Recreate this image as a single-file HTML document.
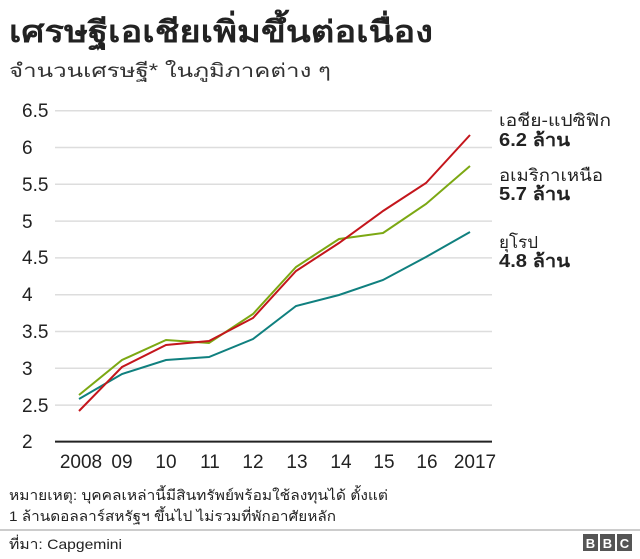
<!DOCTYPE html><html><head><meta charset="utf-8"><style>
body{margin:0;background:#fff;width:640px;height:554px;overflow:hidden;font-family:"Liberation Sans","Noto Sans CJK SC",sans-serif;color:#222}
</style></head><body>
<svg width="640" height="554" xmlns="http://www.w3.org/2000/svg" font-family="Liberation Sans, Noto Sans CJK SC, sans-serif">
<text x="9" y="42" font-size="30" font-weight="bold" fill="#222" textLength="424" lengthAdjust="spacingAndGlyphs">เศรษฐีเอเชียเพิ่มขึ้นต่อเนื่อง</text>
<text x="9" y="77" font-size="19" fill="#333" textLength="322" lengthAdjust="spacingAndGlyphs">จำนวนเศรษฐี* ในภูมิภาคต่าง ๆ</text>
<g stroke="#ddd" stroke-width="1.5">
<line x1="55" x2="492" y1="110.7" y2="110.7"/><line x1="55" x2="492" y1="147.5" y2="147.5"/>
<line x1="55" x2="492" y1="184.3" y2="184.3"/><line x1="55" x2="492" y1="221.1" y2="221.1"/>
<line x1="55" x2="492" y1="257.9" y2="257.9"/><line x1="55" x2="492" y1="294.7" y2="294.7"/>
<line x1="55" x2="492" y1="331.5" y2="331.5"/><line x1="55" x2="492" y1="368.3" y2="368.3"/>
<line x1="55" x2="492" y1="405.1" y2="405.1"/></g>
<line x1="55" x2="492" y1="441.6" y2="441.6" stroke="#222" stroke-width="2"/>
<g font-size="19" fill="#222">
<text x="22" y="117">6.5</text><text x="22" y="154">6</text><text x="22" y="191">5.5</text><text x="22" y="228">5</text><text x="22" y="264">4.5</text><text x="22" y="301">4</text><text x="22" y="338">3.5</text><text x="22" y="375">3</text><text x="22" y="412">2.5</text><text x="22" y="448">2</text>
</g>
<g font-size="19" fill="#222" text-anchor="middle">
<text x="81" y="468">2008</text><text x="122" y="468">09</text><text x="166" y="468">10</text><text x="210" y="468">11</text><text x="253" y="468">12</text><text x="297" y="468">13</text><text x="341" y="468">14</text><text x="384" y="468">15</text><text x="427" y="468">16</text><text x="475" y="468">2017</text>
</g>
<polyline fill="none" stroke="#7ca813" stroke-width="2" points="79,395 122,360 166,340 209,343 253,314 296,267 339,239 383,233 426,204 470,166"/>
<polyline fill="none" stroke="#10807f" stroke-width="2" points="79,399 122,374 166,360 209,357 253,339 296,306 339,295 383,280 426,257 470,232"/>
<polyline fill="none" stroke="#c4161c" stroke-width="2" points="79,411 122,367 166,345 209,341 253,318 296,271 339,243 383,211 426,183 470,135"/>
<g font-size="17" fill="#222">
<text x="499" y="126" textLength="112" lengthAdjust="spacingAndGlyphs">เอชีย-แปซิฟิก</text><text x="499" y="146" font-size="18" font-weight="bold" textLength="71" lengthAdjust="spacingAndGlyphs">6.2 ล้าน</text>
<text x="499" y="181" textLength="104" lengthAdjust="spacingAndGlyphs">อเมริกาเหนือ</text><text x="499" y="200" font-size="18" font-weight="bold" textLength="71" lengthAdjust="spacingAndGlyphs">5.7 ล้าน</text>
<text x="499" y="248">ยุโรป</text><text x="499" y="267" font-size="18" font-weight="bold" textLength="71" lengthAdjust="spacingAndGlyphs">4.8 ล้าน</text>
</g>
<text x="9" y="500" font-size="14" fill="#222" textLength="379" lengthAdjust="spacingAndGlyphs">หมายเหตุ: บุคคลเหล่านี้มีสินทรัพย์พร้อมใช้ลงทุนได้ ตั้งแต่</text>
<text x="9" y="521" font-size="14" fill="#222" textLength="327" lengthAdjust="spacingAndGlyphs">1 ล้านดอลลาร์สหรัฐฯ ขึ้นไป ไม่รวมที่พักอาศัยหลัก</text>
<line x1="0" x2="640" y1="530" y2="530" stroke="#999" stroke-width="1"/>
<text x="9" y="549" font-size="14" fill="#222" textLength="113" lengthAdjust="spacingAndGlyphs">ที่มา: Capgemini</text>
<g font-size="13" font-weight="bold" fill="#fff" text-anchor="middle">
<rect x="583" y="534" width="15" height="17" fill="#555"/><text x="590.5" y="548">B</text>
<rect x="600" y="534" width="15" height="17" fill="#555"/><text x="607.5" y="548">B</text>
<rect x="617" y="534" width="15" height="17" fill="#555"/><text x="624.5" y="548">C</text>
</g>
</svg>
</body></html>
